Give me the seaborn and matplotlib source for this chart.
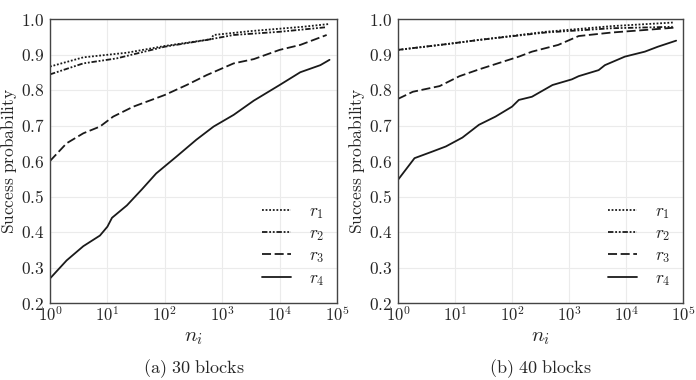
import numpy as np
import pandas as pd
import matplotlib
matplotlib.use("Agg")
import matplotlib.pyplot as plt
import seaborn as sns

# ---- data (log10 of n_i, success probability) ----
# Panel (a): 30 blocks
a_r1_logx = [0.0, 0.58, 1.34, 2.0, 2.8, 2.85, 3.5, 4.4, 4.87]
a_r1_y    = [0.866, 0.892, 0.905, 0.924, 0.943, 0.955, 0.966, 0.978, 0.986]
a_r2_logx = [0.0, 0.58, 1.16, 2.0, 2.73, 3.2, 4.0, 4.82]
a_r2_y    = [0.844, 0.875, 0.889, 0.922, 0.941, 0.955, 0.964, 0.977]
a_r3_logx = [0.0, 0.29, 0.58, 0.87, 1.1, 1.45, 2.0, 2.38, 2.73, 3.2, 3.55, 4.0, 4.36, 4.82]
a_r3_y    = [0.600, 0.650, 0.678, 0.697, 0.725, 0.753, 0.786, 0.814, 0.842, 0.875, 0.887, 0.913, 0.927, 0.955]
a_r4_logx = [0.0, 0.29, 0.58, 0.87, 1.0, 1.08, 1.34, 1.6, 1.85, 2.2, 2.55, 2.85, 3.2, 3.55, 4.0, 4.36, 4.71, 4.87]
a_r4_y    = [0.269, 0.320, 0.360, 0.390, 0.415, 0.440, 0.475, 0.520, 0.565, 0.612, 0.660, 0.697, 0.730, 0.770, 0.814, 0.850, 0.870, 0.885]

# Panel (b): 40 blocks
b_r1_logx = [0.0, 0.84, 1.42, 2.59, 3.755, 4.82]
b_r1_y    = [0.913, 0.929, 0.941, 0.964, 0.980, 0.990]
b_r2_logx = [0.0, 0.84, 1.42, 2.59, 3.755, 4.82]
b_r2_y    = [0.913, 0.929, 0.941, 0.962, 0.974, 0.978]
b_r3_logx = [0.0, 0.26, 0.73, 1.08, 1.42, 2.12, 2.35, 2.81, 3.17, 3.755, 4.33, 4.88]
b_r3_y    = [0.775, 0.795, 0.811, 0.839, 0.858, 0.894, 0.908, 0.927, 0.952, 0.962, 0.969, 0.976]
b_r4_logx = [0.0, 0.29, 0.61, 0.84, 1.13, 1.42, 1.71, 2.0, 2.12, 2.35, 2.71, 3.05, 3.17, 3.52, 3.63, 3.98, 4.33, 4.56, 4.88]
b_r4_y    = [0.547, 0.608, 0.627, 0.641, 0.666, 0.702, 0.725, 0.753, 0.772, 0.781, 0.814, 0.830, 0.839, 0.856, 0.870, 0.894, 0.908, 0.922, 0.939]

series_labels = [r"$r_1$", r"$r_2$", r"$r_3$", r"$r_4$"]
captions = ["(a) 30 blocks", "(b) 40 blocks"]
x_ticks = [1, 10, 100, 1000, 10000, 100000]
y_ticks = [0.2, 0.3, 0.4, 0.5, 0.6, 0.7, 0.8, 0.9, 1.0]

panels = [
    [(a_r1_logx, a_r1_y), (a_r2_logx, a_r2_y), (a_r3_logx, a_r3_y), (a_r4_logx, a_r4_y)],
    [(b_r1_logx, b_r1_y), (b_r2_logx, b_r2_y), (b_r3_logx, b_r3_y), (b_r4_logx, b_r4_y)],
]

sns.set_style("whitegrid", {"grid.color": "#ebebeb", "axes.edgecolor": "#444444"})
plt.rcParams["mathtext.fontset"] = "cm"
plt.rcParams["font.family"] = ["DejaVu Serif"]

styles = [(0, (1, 1)), (0, (3, 1, 1, 1, 1, 1)), (0, (5, 2)), "-"]
lw = 1.3
col = "#1a1a1a"

fig = plt.figure(figsize=(6.96, 3.80), dpi=100)
positions = [[50 / 696, 77 / 380, 287 / 696, 284 / 380],
             [398 / 696, 77 / 380, 285 / 696, 284 / 380]]

for p, (pos, series) in enumerate(zip(positions, panels)):
    ax = fig.add_axes(pos)
    for (lx, ly), lab, ls in zip(series, series_labels, styles):
        df = pd.DataFrame({"n": np.power(10.0, lx), "p": ly})
        sns.lineplot(data=df, x="n", y="p", ax=ax, color=col, linestyle=ls,
                     linewidth=lw, label=lab)
    ax.set_xscale("log")
    ax.set_xlim(1, 1e5)
    ax.set_ylim(0.2, 1.0)
    ax.set_xticks(x_ticks)
    ax.set_xticklabels([r"$10^{%d}$" % int(np.log10(t)) for t in x_ticks], fontsize=12)
    ax.xaxis.set_minor_locator(matplotlib.ticker.NullLocator())
    ax.set_yticks(y_ticks)
    ax.set_yticklabels([r"$%.1f$" % t for t in y_ticks], fontsize=12.5)
    ax.tick_params(axis="x", length=0, pad=2)
    ax.tick_params(axis="y", length=0, pad=4)
    ax.set_xlabel(r"$n_i$", fontsize=15, labelpad=2)
    ax.set_ylabel(r"$\mathrm{Success\ probability}$", fontsize=12.5, labelpad=1)
    for s in ax.spines.values():
        s.set_linewidth(1.0)
    leg = ax.legend(loc="lower right", frameon=False, fontsize=12.5,
                    handlelength=1.7, handletextpad=1.0, labelspacing=0.25,
                    borderaxespad=0.0, bbox_to_anchor=(0.98, 0.03))
    ax.text(0.5, -0.19, r"$\mathrm{%s}$" % captions[p].replace(" ", r"\ "),
            transform=ax.transAxes, ha="center", va="top", fontsize=13)

fig.savefig("out.png", dpi=100)
